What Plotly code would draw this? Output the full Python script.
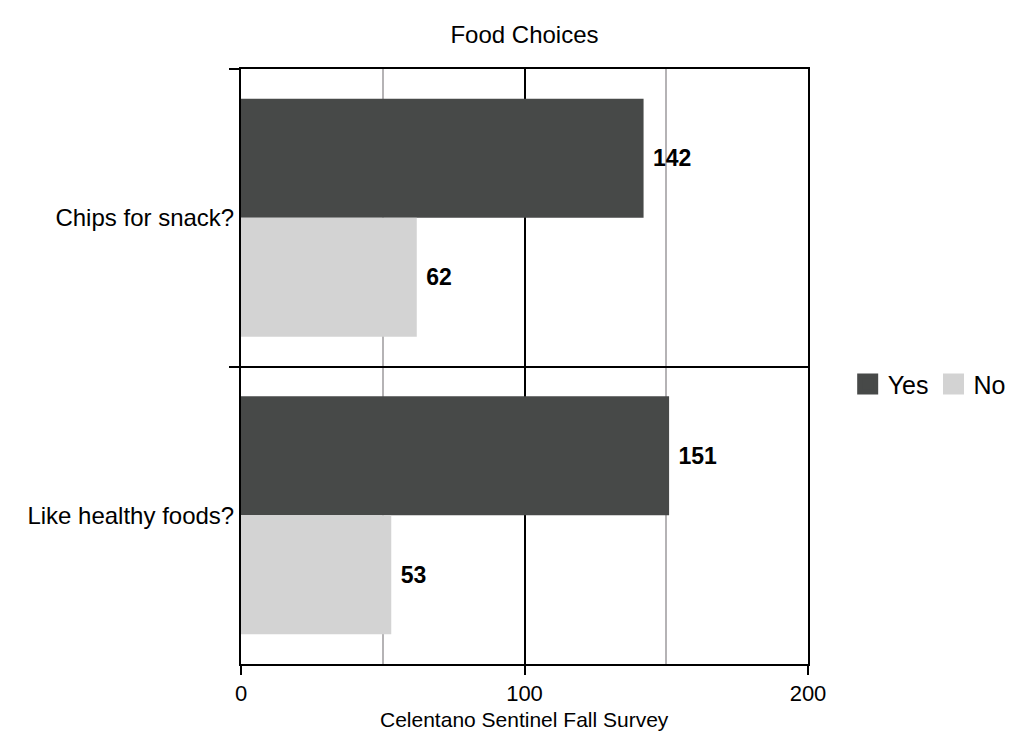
import plotly.graph_objects as go

# Survey questions and answer counts
questions = ["Chips for snack?", "Like healthy foods?"]
yes_counts = [142, 151]
no_counts = [62, 53]

series_names = ["Yes", "No"]
series_colors = ["#474948", "#d3d3d3"]

FONT = "Liberation Sans, Arial, sans-serif"
NBSP = "\u00a0"

fig = go.Figure()
for name, values, color in zip(series_names, [yes_counts, no_counts], series_colors):
    fig.add_trace(go.Bar(
        y=questions,
        x=values,
        name=name,
        orientation="h",
        marker=dict(color=color, line=dict(width=0)),
        text=[f"{NBSP}{v}" for v in values],
        textposition="outside",
        textfont=dict(family=FONT, size=23, color="black", weight="bold"),
        cliponaxis=False,
        showlegend=False,
    ))

# Larger square swatches for the legend
for name, color in zip(series_names, series_colors):
    fig.add_trace(go.Scatter(
        x=[None], y=[None], mode="markers", name=name,
        marker=dict(symbol="square", size=16, color=color,
                    line=dict(color=color, width=6)),
    ))

fig.update_layout(
    width=1034, height=733,
    margin=dict(l=241, r=226, t=69, b=69, autoexpand=False),
    paper_bgcolor="white", plot_bgcolor="white",
    barmode="group", bargap=0.2, bargroupgap=0,
    font=dict(family=FONT, size=23, color="black"),
    title=dict(text="Food Choices", x=(241 + 808) / 2 / 1034, xanchor="center",
               y=1 - 35 / 733, yanchor="middle",
               font=dict(family=FONT, size=24, color="black")),
    legend=dict(orientation="h", x=1.07, xanchor="left", y=0.47, yanchor="middle",
                font=dict(family=FONT, size=25), bgcolor="rgba(0,0,0,0)",
                itemwidth=30, tracegroupgap=0),
    xaxis=dict(
        range=[0, 200], tickvals=[0, 100, 200],
        showgrid=True, gridcolor="black", gridwidth=1.5,
        minor=dict(tickvals=[50, 150], showgrid=True, gridcolor="#b5b3b5", gridwidth=1.5,
                   ticks=""),
        showline=True, linecolor="black", linewidth=2, mirror=True,
        ticks="outside", ticklen=9, tickwidth=2, tickcolor="black",
        tickfont=dict(family=FONT, size=22),
        zeroline=False, automargin=False,
    ),
    yaxis=dict(
        type="category", categoryorder="array", categoryarray=questions,
        autorange="reversed", tickson="boundaries",
        showgrid=True, gridcolor="black", gridwidth=1.5,
        showline=True, linecolor="black", linewidth=2, mirror=True,
        ticks="outside", ticklen=10, tickwidth=2, tickcolor="black",
        tickfont=dict(family=FONT, size=24),
        zeroline=False, automargin=False,
    ),
)

# Axis caption sits low under the tick labels
fig.add_annotation(
    text="Celentano Sentinel Fall Survey",
    xref="paper", yref="paper", x=0.5, y=-(733 - 664) / 595,
    xanchor="center", yanchor="bottom", showarrow=False,
    font=dict(family=FONT, size=21, color="black"),
)

fig.write_html("out.html")
